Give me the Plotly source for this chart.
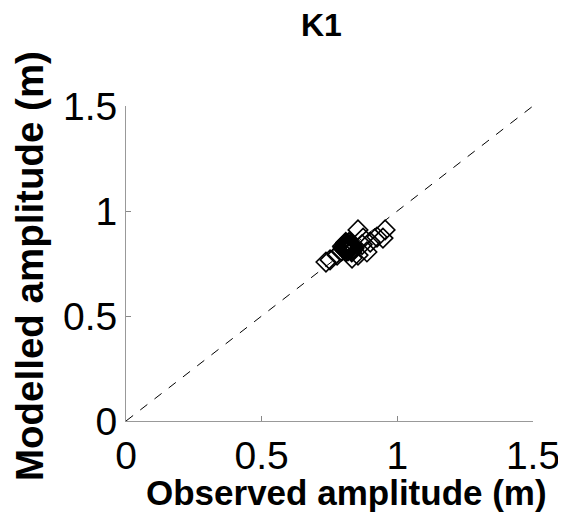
import plotly.graph_objects as go

observed = [0.737, 0.752, 0.778, 0.795, 0.805, 0.81, 0.815, 0.82, 0.825, 0.83, 0.818, 0.812, 0.828,
            0.808, 0.822, 0.833, 0.855, 0.888, 0.855, 0.874, 0.90, 0.925, 0.947, 0.955, 0.84, 0.87,
            0.80, 0.806, 0.812, 0.817, 0.821, 0.826, 0.831, 0.836, 0.803, 0.829, 0.815, 0.824,
            0.798, 0.838, 0.81, 0.832]
modelled = [0.757, 0.767, 0.79, 0.81, 0.815, 0.82, 0.83, 0.825, 0.835, 0.84, 0.81, 0.835, 0.82,
            0.845, 0.85, 0.776, 0.79, 0.805, 0.91, 0.871, 0.852, 0.876, 0.871, 0.91, 0.82, 0.84,
            0.825, 0.838, 0.808, 0.842, 0.818, 0.828, 0.812, 0.832, 0.82, 0.845, 0.822, 0.838,
            0.832, 0.822, 0.85, 0.805]
line_x = [0, 1.5]
line_y = [0, 1.5]
ticks = [0, 0.5, 1, 1.5]
tick_text = ["0", "0.5", "1", "1.5"]

# page has an 8px body margin; target screen positions are shifted accordingly
OFF = 8
L, T, PW, PH = 126 - OFF, 106 - OFF, 407, 315
W, H = 566, 514


def px(x, y):
    """screen pixel -> paper coordinates"""
    return (x - OFF - L) / PW, 1 - (y - OFF - T) / PH


fig = go.Figure()
fig.add_trace(go.Scatter(x=line_x, y=line_y, mode="lines",
                         line=dict(color="black", width=1, dash="dash"),
                         showlegend=False, hoverinfo="skip"))
fig.add_trace(go.Scatter(x=observed, y=modelled, mode="markers",
                         marker=dict(symbol="diamond-open", size=15, color="black",
                                     line=dict(width=1.6, color="black")),
                         showlegend=False))

font = "Liberation Sans, Arial, sans-serif"
ann = []
for text, sx, sy, size, ang in [("<b>K1</b>", 321, 25, 32, 0),
                                ("<b>Observed amplitude (m)</b>", 346, 492, 35, 0),
                                ("<b>Modelled amplitude (m)</b>", 29, 266, 38.5, -90)]:
    ax, ay = px(sx, sy)
    ann.append(dict(text=text, x=ax, y=ay, xref="paper", yref="paper",
                    xanchor="center", yanchor="middle", textangle=ang, borderpad=0,
                    showarrow=False, font=dict(family=font, size=size, color="black")))

fig.update_layout(
    width=W, height=H,
    margin=dict(l=L, r=W - L - PW, t=T, b=H - T - PH, autoexpand=False),
    paper_bgcolor="white", plot_bgcolor="white",
    font=dict(family=font, color="black"),
    annotations=ann,
)

axis_common = dict(range=[0, 1.5], tickvals=ticks, ticktext=tick_text,
                   ticks="inside", ticklen=5, tickcolor="#888",
                   showline=True, linecolor="#999", linewidth=1,
                   showgrid=False, zeroline=False, automargin=False,
                   tickfont=dict(family=font, size=39, color="black"))
fig.update_xaxes(**axis_common)
fig.update_yaxes(**axis_common)

fig.write_html("out.html")
